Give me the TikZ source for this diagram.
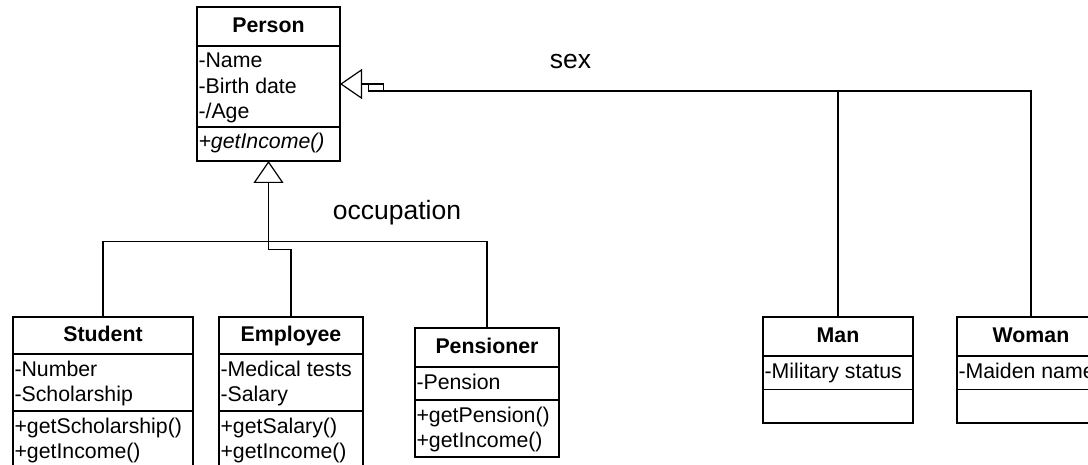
\documentclass[tikz,border=0pt]{standalone}
\usepackage{fontspec}
\setmainfont{Liberation Sans}
\usetikzlibrary{arrows.meta}

\newcommand\classfont{\fontsize{21.3pt}{25.5pt}\selectfont}
\newcommand\labelfont{\fontsize{26.5pt}{31pt}\selectfont}

\tikzset{
  x=1pt, y=-1pt,
  classbox/.style={draw, line width=1.2pt, inner sep=0pt, outer sep=0pt, anchor=north west},
  classtitle/.style={inner sep=0pt, outer sep=0pt, anchor=north, font=\classfont\bfseries,
    text height=15.3pt, text depth=3pt},
  members/.style={inner sep=0pt, outer sep=0pt, anchor=north west, align=left, font=\classfont},
  sepline/.style={line width=1.2pt},
  wire/.style={line width=1.2pt},
  inherit/.style={wire, -{Triangle[open, length=22pt, width=30pt]}},
  caption/.style={inner sep=0pt, anchor=base, font=\labelfont},
}

% #1 id, #2 top-left corner, #3 width, #4 title height, #5 attribute height,
% #6 operation height, #7 class name, #8 attributes, #9 operations
\newcommand\umlclass[9]{%
  \node[classbox, minimum width=#3pt, minimum height={#4pt+#5pt+#6pt}] (#1) at (#2) {};
  \node[classtitle, minimum width=#3pt, minimum height=#4pt] (#1-t) at (#1.north) {#7};
  \draw[sepline] ([yshift=-#4pt]#1.north west) -- ([yshift=-#4pt]#1.north east);
  \draw[sepline] ([yshift=-#4pt-#5pt]#1.north west) -- ([yshift=-#4pt-#5pt]#1.north east);
  \node[members] (#1-a) at ([xshift=1.5pt,yshift=-#4pt-5pt]#1.north west) {\rule{0pt}{17pt}#8};
  \node[members] (#1-o) at ([xshift=1.5pt,yshift=-#4pt-#5pt-5pt]#1.north west) {\rule{0pt}{17pt}#9};
}

\begin{document}
\begin{tikzpicture}
  \fill[white] (0,0) rectangle (1088,465);
  \useasboundingbox (0,0) rectangle (1088,465);

  % classes
  \umlclass{person}{197,7}{143}{39}{81}{34}{Person}{-Name\\-Birth date\\-/Age}{\itshape +getIncome()}
  \umlclass{student}{13,317}{180}{37}{57}{57}{Student}{-Number\\-Scholarship}{+getScholarship()\\+getIncome()}
  \umlclass{employee}{219,317}{144}{37}{57}{57}{Employee}{-Medical tests\\-Salary}{+getSalary()\\+getIncome()}
  \umlclass{pensioner}{415,328}{144}{39}{33}{57}{Pensioner}{-Pension}{+getPension()\\+getIncome()}
  \umlclass{man}{763,317}{150}{39}{33.5}{33.5}{Man}{-Military status}{}
  \umlclass{woman}{957,317}{148}{39}{33.5}{33.5}{Woman}{-Maiden name}{}

  % generalization set "occupation"
  \coordinate (occjog) at (291,249.3);
  \coordinate (occbus) at (0,241.7);
  \draw[inherit] (employee.north) |- (person.south |- occjog) -- (person.south);
  \draw[wire] (student.north) |- (pensioner.north |- occbus) -- (pensioner.north);
  \node[caption] (occ-label) at (397,220) {occupation};

  % generalization set "sex"
  \coordinate (sexcorner) at (383.3,91);
  \coordinate (sexnotch) at (368.3,84);
  \draw[inherit] (woman.north) |- (sexcorner) -- (sexcorner |- person.east) -- (person.east);
  \draw[wire] (sexnotch) |- (sexcorner);
  \draw[wire] (man.north) -- (man.north |- sexcorner);
  \node[caption] (sex-label) at (570.5,68.3) {sex};
\end{tikzpicture}
\end{document}
